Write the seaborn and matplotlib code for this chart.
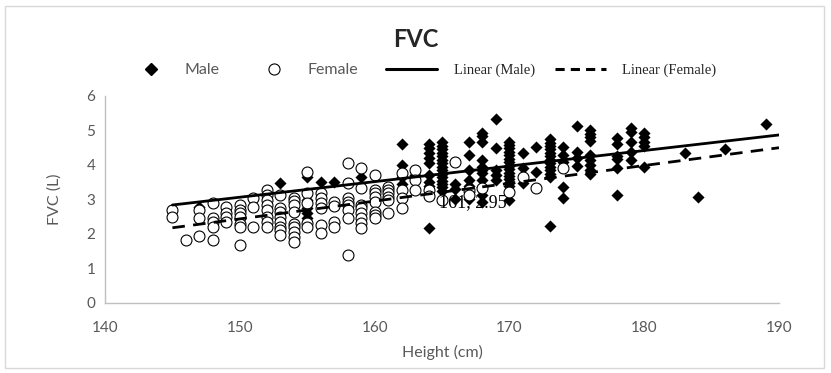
import seaborn as sns
import matplotlib.pyplot as plt
from matplotlib.lines import Line2D
from matplotlib.patches import Rectangle
from matplotlib.font_manager import FontProperties
import pandas as pd

# 男性：身高 -> 该身高下的 FVC 值
male_height = [147, 153, 155, 156, 157, 159, 162, 163, 164, 165, 166, 167, 168, 169,
               170, 171, 172, 173, 174, 175, 176, 178, 179, 180, 183, 184, 186, 189]
male_fvc = [
    [2.79], [3.47], [3.66, 2.99, 2.75, 2.6, 2.45], [3.52], [3.52], [3.66],
    [4.6, 4.0, 3.65, 3.45], [3.7],
    [4.6, 4.48, 4.35, 4.2, 4.05, 3.7, 3.52, 3.38, 2.17],
    [4.68, 4.56, 4.45, 4.35, 4.25, 4.15, 4.05, 3.95, 3.85, 3.75, 3.65, 3.55, 3.45, 3.35, 3.25],
    [3.45, 3.3, 3.0],
    [4.68, 4.29, 3.86, 3.57, 3.4, 3.23, 3.0],
    [4.92, 4.83, 4.68, 4.14, 3.95, 3.85, 3.76, 3.57, 3.37, 3.13, 2.94],
    [5.32, 4.48, 3.86, 3.71, 3.57],
    [4.68, 4.58, 4.48, 4.38, 4.28, 4.18, 4.08, 3.98, 3.88, 3.78, 3.68, 3.58, 3.48, 3.4, 2.99],
    [4.34, 3.9, 3.47], [4.53, 3.81],
    [4.75, 4.65, 4.55, 4.45, 4.35, 4.25, 4.15, 4.05, 3.95, 3.85, 3.75, 3.65, 2.22],
    [4.53, 4.3, 4.1, 3.37, 3.03], [5.13, 4.39, 4.2, 3.97],
    [5.0, 4.9, 4.8, 4.7, 4.3, 4.15, 4.0, 3.85, 3.75],
    [4.77, 4.62, 4.27, 4.18, 3.92, 3.13], [5.06, 4.97, 4.68, 4.39, 4.14],
    [4.92, 4.8, 4.68, 4.55, 3.95], [4.35], [3.06], [4.46], [5.19],
]

# 女性
female_height = [145, 146, 147, 148, 149, 150, 151, 152, 153, 154, 155, 156, 157, 158,
                 159, 160, 161, 162, 163, 164, 165, 166, 167, 168, 170, 171, 172, 174]
female_fvc = [
    [2.7, 2.5], [1.83], [2.7, 2.45, 1.94], [2.89, 2.45, 2.35, 2.21, 1.83],
    [2.79, 2.6, 2.5, 2.36], [2.84, 2.7, 2.6, 2.5, 2.3, 2.2, 1.68], [3.03, 2.79, 2.21],
    [3.28, 3.13, 2.99, 2.84, 2.7, 2.5, 2.36, 2.21],
    [3.13, 2.75, 2.65, 2.5, 2.36, 2.21, 2.12, 1.97],
    [3.05, 2.95, 2.85, 2.65, 2.3, 2.2, 2.05, 1.9, 1.78],
    [3.81, 3.18, 2.9, 2.31, 2.2], [3.18, 3.03, 2.89, 2.74, 2.26, 2.02],
    [2.94, 2.8, 2.36, 2.21], [4.05, 3.47, 3.03, 2.94, 2.84, 2.7, 2.45, 1.4],
    [3.9, 3.32, 2.84, 2.74, 2.6, 2.45, 2.31, 2.17],
    [3.71, 3.28, 3.18, 3.08, 2.94, 2.65, 2.55, 2.45],
    [3.37, 3.28, 3.18, 3.08, 2.99, 2.6], [3.76, 3.28, 3.03, 2.74], [3.86, 3.57, 3.28],
    [3.28, 3.1], [2.99], [4.1], [3.28, 3.13], [3.32], [3.23], [3.66], [3.32], [3.9],
]

# 趋势线（Excel 线性趋势线两端）
trend_x = [145, 190]
male_trend = [2.84, 4.87]
female_trend = [2.18, 4.50]

x_ticks = [140, 150, 160, 170, 180, 190]
y_ticks = [0, 1, 2, 3, 4, 5, 6]


def to_frame(heights, values):
    rows = [(h, v) for h, vs in zip(heights, values) for v in vs]
    return pd.DataFrame(rows, columns=['height', 'fvc'])


male_df = to_frame(male_height, male_fvc)
female_df = to_frame(female_height, female_fvc)

sns.set_style('white')
plt.rcParams['font.family'] = ['Lato', 'DejaVu Sans']
grey = '#595959'

fig = plt.figure(figsize=(8.31, 3.73), dpi=100)
ax = fig.add_axes([0.1264, 0.1877, 0.811, 0.555])

sns.scatterplot(data=male_df, x='height', y='fvc', marker='D', s=38, color='black',
                edgecolor='black', linewidth=0, ax=ax, zorder=2)
sns.scatterplot(data=female_df, x='height', y='fvc', marker='o', s=62, facecolor='white',
                edgecolor='black', linewidth=0.8, ax=ax, zorder=3)
sns.lineplot(x=trend_x, y=male_trend, color='black', lw=2.0, ax=ax, zorder=4)
sns.lineplot(x=trend_x, y=female_trend, color='black', lw=2.0, ax=ax, zorder=4)
ax.lines[-1].set_dashes((4.5, 3))

ax.text(164.8, 2.92, '161, 2.95', family='Liberation Serif', fontsize=13,
        va='center', ha='left', color='black', zorder=5)

ax.set_xlim(140, 190)
ax.set_ylim(0, 6)
ax.set_xticks(x_ticks)
ax.set_yticks(y_ticks)
ax.tick_params(axis='x', length=0, pad=13, labelsize=11, labelcolor=grey)
ax.tick_params(axis='y', length=0, pad=7, labelsize=11, labelcolor=grey)
for side in ['top', 'right']:
    ax.spines[side].set_visible(False)
for side in ['left', 'bottom']:
    ax.spines[side].set_color('#BFBFBF')
    ax.spines[side].set_linewidth(1.0)
ax.set_xlabel('Height (cm)', fontsize=11.5, color=grey, labelpad=7)
ax.set_ylabel('FVC (L)', fontsize=11.5, color=grey, labelpad=18)

fig.text(0.5, 0.895, 'FVC', ha='center', va='center', fontsize=17, fontweight='bold')

# 图例：散点两项和趋势线两项分开排
marker_handles = [
    Line2D([], [], marker='D', color='black', ls='none', markersize=6),
    Line2D([], [], marker='o', markerfacecolor='white', markeredgecolor='black',
           ls='none', markersize=8, markeredgewidth=0.8),
]
leg1 = fig.legend(marker_handles, ['Male', 'Female'], loc='center left',
                  bbox_to_anchor=(0.1625, 0.812), ncol=2, frameon=False,
                  borderpad=0, borderaxespad=0, handlelength=2.0, handletextpad=1.1,
                  columnspacing=2.4, prop=FontProperties(family='Lato', size=11.5))
for t in leg1.get_texts():
    t.set_color(grey)

line_handles = [
    Line2D([], [], color='black', lw=2.2),
    Line2D([], [], color='black', lw=2.2, dashes=(3, 2)),
]
leg2 = fig.legend(line_handles, ['Linear (Male)', 'Linear (Female)'], loc='center left',
                  bbox_to_anchor=(0.4645, 0.812), ncol=2, frameon=False,
                  borderpad=0, borderaxespad=0, handlelength=3.5, handletextpad=1.15,
                  columnspacing=1.35, prop=FontProperties(family='Liberation Serif', size=10.5))

fig.patches.append(Rectangle((0.006, 0.013), 0.985, 0.972, transform=fig.transFigure,
                             fill=False, edgecolor='#D9D9D9', lw=1.0))

fig.savefig('out.png', dpi=100)
